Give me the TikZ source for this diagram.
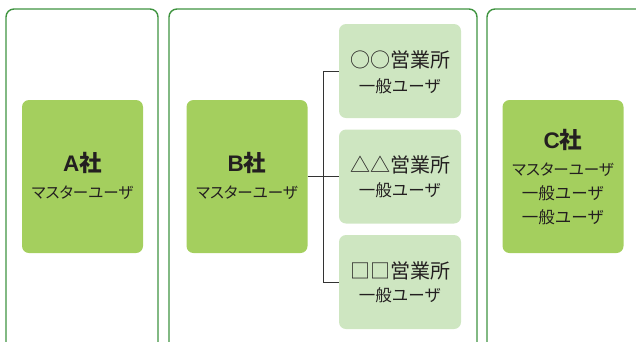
\documentclass[tikz,border=0pt]{standalone}
\usepackage{fontspec}
\setmainfont{Noto Sans CJK JP}
\newfontfamily\jpp[RawFeature=+palt]{Noto Sans CJK JP}
\newfontfamily\latn{Liberation Sans}
\definecolor{framegreen}{HTML}{3F9440}
\definecolor{boxdark}{HTML}{A4CF5E}
\definecolor{boxlight}{HTML}{CEE6C1}
\definecolor{txt}{HTML}{231F20}
\definecolor{conn}{HTML}{333333}
\newcommand{\ltr}[1]{{\latn\bfseries #1}}
\begin{document}
\begin{tikzpicture}[x=1pt,y=-1pt,
  frame/.style={draw=framegreen,line width=1.4pt,rounded corners=8pt,inner sep=0pt,minimum width=#1,minimum height=345pt},
  company/.style={fill=boxdark,rounded corners=7pt,inner sep=0pt,minimum width=121pt,minimum height=153pt},
  office/.style={fill=boxlight,rounded corners=7pt,inner sep=0pt,minimum width=122pt,minimum height=94pt},
  title/.style={text=txt,font=\bfseries\fontsize{22.5}{26}\selectfont,inner sep=0pt},
  officename/.style={text=txt,font=\fontsize{20}{24}\selectfont,inner sep=0pt},
  user/.style={text=txt,font=\fontsize{16.5}{18}\selectfont,inner sep=0pt},
  master/.style={text=txt,font=\jpp\fontsize{15.5}{18}\selectfont,inner sep=0pt},
  link/.style={draw=conn,line width=0.9pt}]
\useasboundingbox (0,0) rectangle (636,341);
\clip (0,0) rectangle (636,341);
% frames
\node[frame=152pt] (fa) at (82,181.5) {};
\node[frame=308pt] (fb) at (323,181.5) {};
\node[frame=160pt] (fc) at (567,181.5) {};
% company boxes
\node[company] (ba) at (82.5,176.5) {};
\node[company] (bb) at (247,176.5) {};
\node[company] (bc) at (563,176.5) {};
% office boxes
\node[office] (s1) at (400,71) {};
\node[office] (s2) at (400,176.5) {};
\node[office] (s3) at (400,282) {};
% connectors
\coordinate (j) at (323,176.5);
\draw[link] (bb.east) -- (s2.west);
\draw[link] (s1.west) -- (s1.west -| j) -- (s3.west -| j) -- (s3.west);
% texts
\node[title] (ta) at (82.5,163) {\ltr{A}社};
\node[master] (ma) at (82.5,192.5) {マスターユーザ};
\node[title] (tb) at (247,163) {\ltr{B}社};
\node[master] (mb) at (247,192.5) {マスターユーザ};
\node[title] (tc) at (563,139.5) {\ltr{C}社};
\node[master] (mc) at (563,169.5) {マスターユーザ};
\node[user] (uc1) at (563,193) {一般ユーザ};
\node[user] (uc2) at (563,217) {一般ユーザ};
\node[officename] (o1) at (400,60) {○○営業所};
\node[user] (u1) at (400,86) {一般ユーザ};
\node[officename] (o2) at (400,165) {△△営業所};
\node[user] (u2) at (400,190) {一般ユーザ};
\node[officename] (o3) at (400,271) {□□営業所};
\node[user] (u3) at (400,295) {一般ユーザ};
\end{tikzpicture}
\end{document}
